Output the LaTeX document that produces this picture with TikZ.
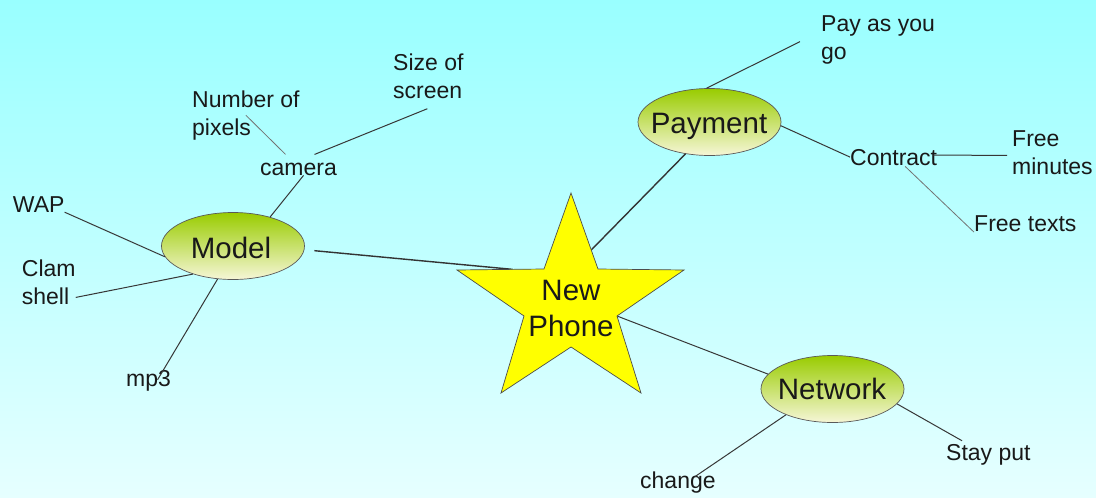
\documentclass[tikz,border=0pt]{standalone}
\usepackage{fontspec}
\setmainfont{Liberation Sans}
\usetikzlibrary{calc,shapes.geometric}
\definecolor{bgtop}{RGB}{153,255,255}
\definecolor{bgbot}{RGB}{230,255,255}
\definecolor{elltop}{RGB}{153,204,0}
\definecolor{ellbot}{RGB}{246,246,215}
\definecolor{starfill}{RGB}{255,255,0}
\definecolor{ink}{RGB}{25,25,25}
\definecolor{linecol}{RGB}{55,55,55}
\begin{document}
\begin{tikzpicture}[x=1pt,y=-1pt,
  topic/.style={ellipse, draw=black!65, line width=0.7pt, top color=elltop, bottom color=ellbot,
    minimum width=143pt, minimum height=67pt, inner sep=0pt},
  bigtext/.style={inner sep=0pt, font=\fontsize{29.5}{36}\selectfont, text=ink},
  lbl/.style={inner sep=0pt, font=\fontsize{23}{27.6}\selectfont, text=ink, align=left},
  link/.style={draw=linecol, line width=1pt},
  lightlink/.style={draw=black!55, line width=0.8pt},
  heavylink/.style={draw=black!80, line width=1.4pt},
]
% background
\fill[top color=bgtop, bottom color=bgbot] (0,0) rectangle (1096,498);
\useasboundingbox (0,0) rectangle (1096,498);

% star corners
\coordinate (s1) at (571,193);
\coordinate (s2) at (598,269);
\coordinate (s3) at (684,270);
\coordinate (s4) at (617,316);
\coordinate (s5) at (641,393);
\coordinate (s6) at (571,347);
\coordinate (s7) at (501,393);
\coordinate (s8) at (524,316);
\coordinate (s9) at (457,270);
\coordinate (s10) at (544,269);

% topic ellipses
\node[topic] (model) at (233,246) {};
\node[topic] (payment) at (709.5,122) {};
\node[topic] (network) at (832.5,389) {};
\node[bigtext, anchor=base] (modelT) at (231,258.3) {Model};
\node[bigtext, anchor=base] (paymentT) at (709,133) {Payment};
\node[bigtext, anchor=base] (networkT) at (832,399) {Network};

% labels (base anchor of two-line labels = baseline of second line)
\node[lbl, anchor=base west] (size) at (393,98.3) {Size of\\screen};
\node[lbl, anchor=base west] (number) at (192,135) {Number of\\pixels};
\node[lbl, anchor=base west] (camera) at (260,175) {camera};
\node[lbl, anchor=base west] (wap) at (12.7,212) {WAP};
\node[lbl, anchor=base west] (clam) at (21.7,304) {Clam\\shell};
\node[lbl, anchor=base west] (mp3) at (126,386) {mp3};
\node[lbl, anchor=base west] (pay) at (821,59) {Pay as you\\go};
\node[lbl, anchor=base west] (contract) at (850,165) {Contract};
\node[lbl, anchor=base west] (minutes) at (1012,174) {Free\\minutes};
\node[lbl, anchor=base west] (texts) at (974,231.7) {Free texts};
\node[lbl, anchor=base west] (stay) at (946,460) {Stay put};
\node[lbl, anchor=base west] (change) at (640,488) {change};

% connectors
\draw[link] ($(camera.north)+(16,-8)$) -- ($(size.south)+(-1,10)$);
\draw[lightlink] ($(camera.north)+(-13,-8)$) -- (number.center);
\draw[link] ($(camera.south)+(5,0)$) -- (model.38);
\draw[heavylink, shorten <=10pt] (model.-3) -- ($(s9)!0.64!(s10)$);
\draw[link] (model.189) -- (wap.south east);
\draw[link] (model.215) -- ($(clam.south east)+(0,-7)$);
\draw[link] (model.245.6) -- ($(mp3.north)+(9,10)$);
\draw[heavylink] (payment.233.4) -- ($(s1)!0.75!(s2)$);
\draw[link] (payment.95.7) -- ($(pay.west)+(-21,2)$);
\draw[link] (payment.-3.9) -- (contract.west);
\draw[link] ($(contract.east)+(-4,-2)$) -- ($(minutes.west)+(-5,3)$);
\draw[lightlink] ($(contract.south)+(11.5,1)$) -- (texts.south west);
\draw[link] (s4) -- (network.167.2);
\draw[link] (network.-13.7) -- ($(stay.north west)+(16,-3)$);
\draw[link] (network.209.7) -- ($(change.north)+(17,5.5)$);

% star
\filldraw[fill=starfill, draw=black!70, line width=0.7pt, line join=miter]
  (s1) -- (s2) -- (s3) -- (s4) -- (s5) -- (s6) -- (s7) -- (s8) -- (s9) -- (s10) -- cycle;
\node[bigtext, anchor=base] (newA) at (571,300) {New};
\node[bigtext, anchor=base] (newB) at (571,336.7) {Phone};
\end{tikzpicture}
\end{document}
